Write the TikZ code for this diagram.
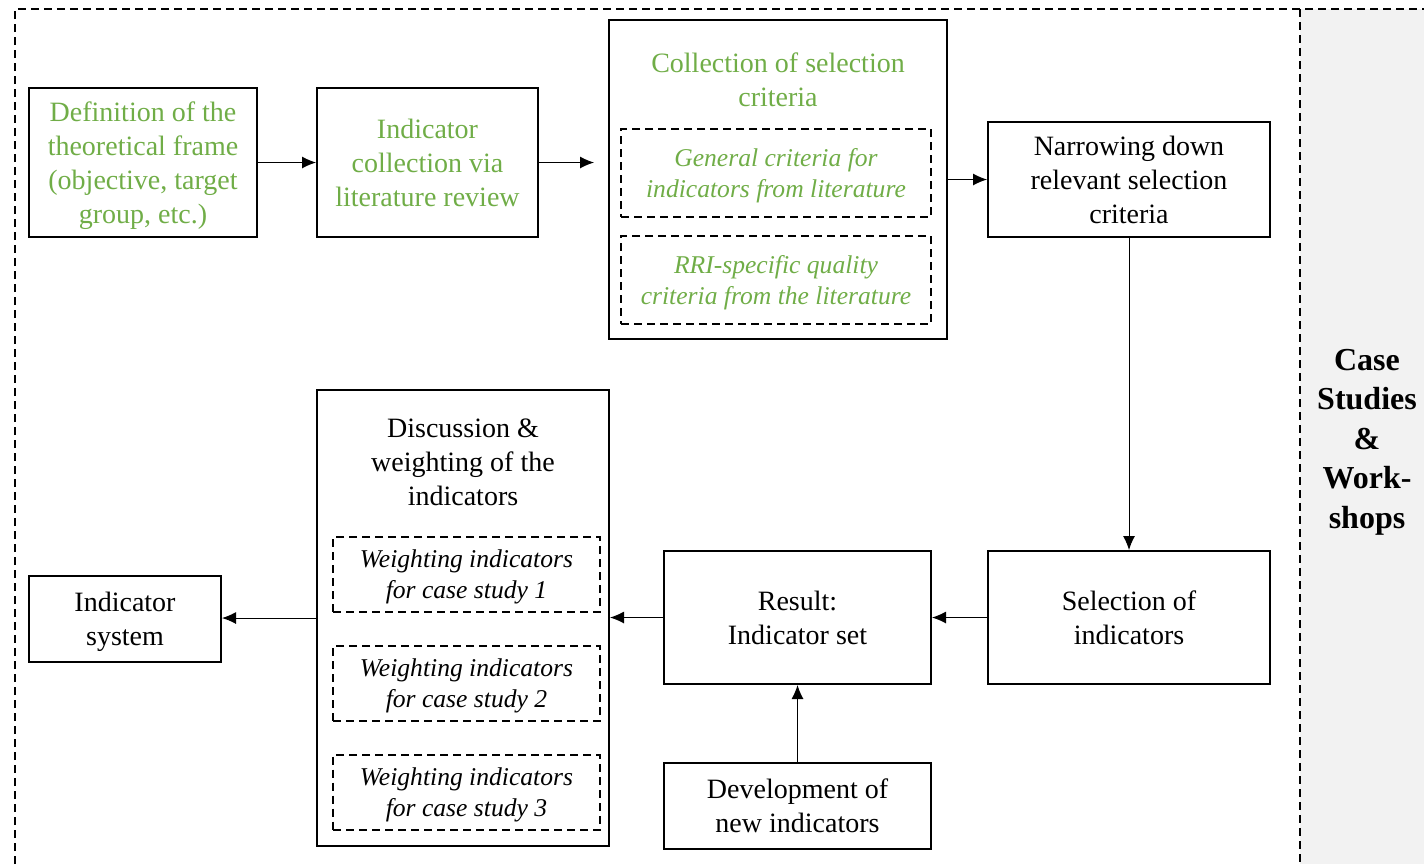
\documentclass[tikz,border=0pt]{standalone}
\usepackage{fontspec}
\setmainfont{Liberation Serif}
\usetikzlibrary{arrows.meta, calc}
\definecolor{leafgreen}{HTML}{70AD47}
\tikzset{
    box/.style={draw, line width=1pt, align=center, inner sep=0pt, text depth=-1.5pt, font=\fontsize{14}{17}\selectfont},
    dbox/.style={draw, line width=1pt, dash pattern=on 4pt off 2.5pt, align=center, inner sep=0pt, text depth=-1.5pt, font=\fontsize{12.8}{15.5}\selectfont\itshape},
    title/.style={align=center, inner sep=0pt, font=\fontsize{14}{17}\selectfont},
    arr/.style={line width=0.5pt, -{Latex[length=7pt,width=6pt]}},
}

\begin{document}
\begin{tikzpicture}[x=0.5pt, y=-0.5pt]
            \useasboundingbox (0,0) rectangle (1424,864);

            % case study panel and dashed frame
            \fill[gray!10] (1300,9) rectangle (1424,864);
            \draw[line width=1pt, dash pattern=on 4pt off 2.5pt] (15,864) -- (15,9) -- (1424,9);
            \draw[line width=1pt, dash pattern=on 4pt off 2.5pt] (1300,9) -- (1300,864);
            \node[align=center, inner sep=0pt, font=\fontsize{16}{19.75}\selectfont\bfseries] (cases) at (1367,442) {Case\\Studies\\\&\\Work-\\shops};

            % upper row
            \node[box, text=leafgreen, minimum width=114pt, minimum height=74.5pt] (frame) at (143,162.5) {Definition of the\\theoretical frame\\(objective, target\\group, etc.)};
            \node[box, text=leafgreen, minimum width=110.5pt, minimum height=74.5pt] (litcoll) at (427.5,162.5) {Indicator\\collection via\\literature review};
            \node[box, minimum width=169pt, minimum height=159.5pt] (crit) at (778,179.5) {};
            \node[title, text=leafgreen] (crittitle) at (778,80) {Collection of selection\\criteria};
            \node[dbox, text=leafgreen, minimum width=155pt, minimum height=44pt] (general) at (776,173) {General criteria for\\indicators from literature};
            \node[dbox, text=leafgreen, minimum width=155pt, minimum height=44pt] (rri) at (776,280) {RRI-specific quality\\criteria from the literature};
            \node[box, minimum width=141pt, minimum height=57.5pt] (narrow) at (1129,179.5) {Narrowing down\\relevant selection\\criteria};

            % lower row
            \node[box, minimum width=141pt, minimum height=66.5pt] (select) at (1129,617.5) {Selection of\\indicators};
            \node[box, minimum width=133.5pt, minimum height=66.5pt] (result) at (797.5,617.5) {Result:\\Indicator set};
            \node[box, minimum width=133.5pt, minimum height=43pt] (newind) at (797.5,806) {Development of\\new indicators};
            \node[box, minimum width=146pt, minimum height=228pt] (disc) at (463,618) {};
            \node[title] (disctitle) at (463,462.5) {Discussion \&\\weighting of the\\indicators};
            \node[dbox, minimum width=133.5pt, minimum height=37.5pt] (case1) at (466.5,574.5) {Weighting indicators\\for case study 1};
            \node[dbox, minimum width=133.5pt, minimum height=37.5pt] (case2) at (466.5,683.5) {Weighting indicators\\for case study 2};
            \node[dbox, minimum width=133.5pt, minimum height=37.5pt] (case3) at (466.5,792) {Weighting indicators\\for case study 3};
            \node[box, minimum width=96pt, minimum height=43pt] (system) at (125,619) {Indicator\\system};

            % connectors
            \draw[arr] (frame) -- (litcoll);
            \draw[arr, shorten >=7pt] (litcoll.east) -- (litcoll.east -| crit.west);
            \draw[arr] (crit) -- (narrow);
            \draw[arr] (narrow) -- (select);
            \draw[arr] (select) -- (result);
            \draw[arr] (result.west) -- (result.west -| disc.east);
            \draw[arr] (newind) -- (result);
            \draw[arr] (disc.west) -- (disc.west -| system.east);
        \end{tikzpicture}
\end{document}
